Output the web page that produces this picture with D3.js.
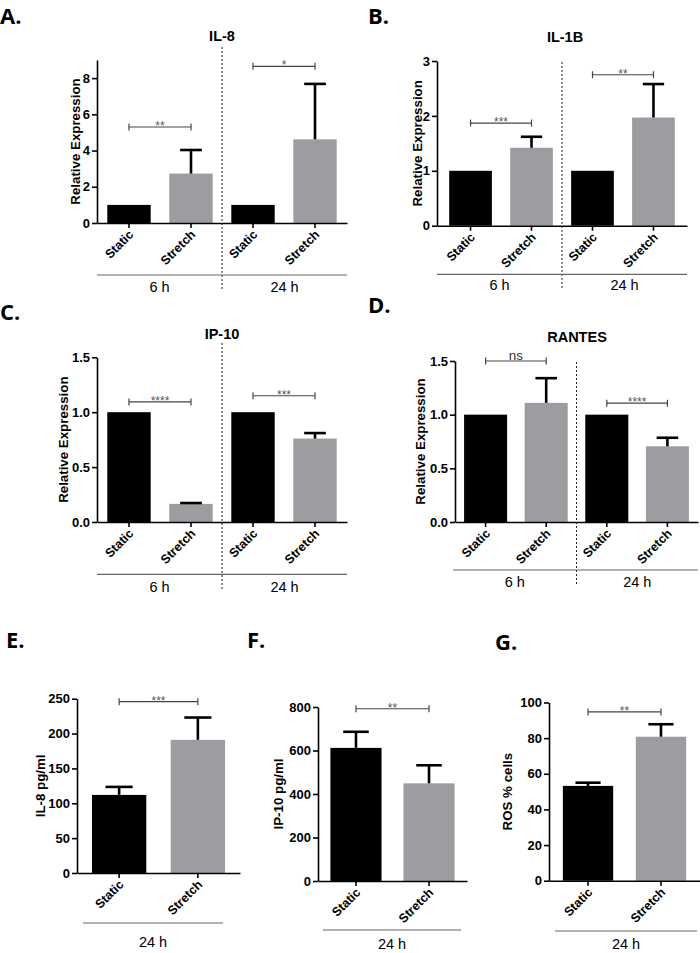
<!DOCTYPE html>
<html><head><meta charset="utf-8">
<script src="https://cdn.jsdelivr.net/npm/d3@7/dist/d3.min.js"></script>
<style>
body{margin:0;background:#fff}
svg{display:block}
text{font-family:"Liberation Sans",Arial,sans-serif}
</style>
</head><body>
<svg id="chart" width="700" height="953"></svg>
<script>
// ---------- data ----------
const barLabels4 = ["Static","Stretch","Static","Stretch"];
const barLabels2 = ["Static","Stretch"];
const timeLabels4 = ["6 h","24 h"];
const timeLabels2 = ["24 h"];

const il8RelMean = [1, 2.73, 1, 4.62];
const il8RelErr  = [0, 1.30, 0, 3.06];
const il8RelTicks = [0, 2, 4, 6, 8];
const il8RelSig = [{a:0,b:1,y:5.3,label:"**"},{a:2,b:3,y:8.65,label:"*"}];

const il1bMean = [1, 1.42, 1, 1.97];
const il1bErr  = [0, 0.20, 0, 0.61];
const il1bTicks = [0, 1, 2, 3];
const il1bSig = [{a:0,b:1,y:1.87,label:"***"},{a:2,b:3,y:2.75,label:"**"}];

const ip10RelMean = [1, 0.165, 1, 0.76];
const ip10RelErr  = [0, 0.008, 0, 0.05];
const ip10RelTicks = [0, 0.5, 1.0, 1.5];
const ip10RelSig = [{a:0,b:1,y:1.094,label:"****"},{a:2,b:3,y:1.15,label:"***"}];

const rantesMean = [1, 1.11, 1, 0.705];
const rantesErr  = [0, 0.23, 0, 0.08];
const rantesTicks = [0, 0.5, 1.0, 1.5];
const rantesSig = [{a:0,b:1,y:1.5,label:"ns"},{a:2,b:3,y:1.107,label:"****"}];

const il8PgMean = [112, 191];
const il8PgErr  = [11.5, 32];
const il8PgTicks = [0, 50, 100, 150, 200, 250];
const il8PgSig = [{a:0,b:1,y:245.7,label:"***"}];

const ip10PgMean = [612, 449];
const ip10PgErr  = [74, 83];
const ip10PgTicks = [0, 200, 400, 600, 800];
const ip10PgSig = [{a:0,b:1,y:792,label:"**"}];

const rosMean = [53.2, 80.8];
const rosErr  = [1.8, 7.0];
const rosTicks = [0, 20, 40, 60, 80, 100];
const rosSig = [{a:0,b:1,y:94.7,label:"**"}];

// ---------- drawing ----------
const svg = d3.select("#chart");
const BLACK = "#000", GRAY = "#9d9da1";

function panel(p) {
  const g = svg.append("g");
  const n = p.labels.length;
  const x = d3.scaleBand().domain(d3.range(n)).range([p.x0, p.x1])
    .paddingInner(p.pi).paddingOuter(p.po);
  const y = d3.scaleLinear().domain([0, p.max]).range([p.y0, p.y1]);
  const bw = x.bandwidth();
  const cx = i => x(i) + bw / 2;

  // letter
  g.append("text").attr("x", p.lx).attr("y", p.ly).text(p.letter)
    .style("font-family", "'Open Sans',sans-serif").style("font-weight", 700)
    .style("font-size", "22px");
  // title
  if (p.title) g.append("text").attr("x", p.tx).attr("y", p.ty).attr("text-anchor", "middle")
    .style("font-weight", 700).style("font-size", "14.5px").text(p.title);

  // bars
  g.selectAll("rect.bar").data(p.mean).join("rect").attr("class", "bar")
    .attr("x", (d, i) => x(i)).attr("width", bw)
    .attr("y", d => y(d)).attr("height", d => p.y0 - y(d))
    .attr("fill", (d, i) => i % 2 === 0 ? BLACK : GRAY);

  // error bars (upper only)
  p.mean.forEach((m, i) => {
    const e = p.err[i];
    if (!(e > 0)) return;
    g.append("line").attr("x1", cx(i)).attr("x2", cx(i)).attr("y1", y(m)).attr("y2", y(m + e))
      .attr("stroke", "#000").attr("stroke-width", 2.6);
    g.append("line").attr("x1", cx(i) - bw / 4).attr("x2", cx(i) + bw / 4)
      .attr("y1", y(m + e)).attr("y2", y(m + e))
      .attr("stroke", "#000").attr("stroke-width", 2.6);
  });

  // axes
  const ya = g.append("g").attr("transform", `translate(${p.x0},0)`)
    .call(d3.axisLeft(y).tickValues(p.ticks).tickSize(5).tickSizeOuter(0).tickPadding(2)
      .tickFormat(p.fmt || d3.format("d")));
  const xa = g.append("g").attr("transform", `translate(0,${p.y0})`)
    .call(d3.axisBottom(x).tickSize(5).tickSizeOuter(0).tickFormat(i => p.labels[i]));
  [ya, xa].forEach(a => {
    a.select(".domain").attr("stroke", "#000").attr("stroke-width", 1.6);
    a.selectAll(".tick line").attr("stroke", "#000").attr("stroke-width", 1.6);
    a.selectAll("text").attr("fill", "#000").style("font-weight", 700)
      .style("font-family", "'Liberation Sans',Arial,sans-serif");
  });
  ya.selectAll("text").style("font-size", "13px");
  xa.selectAll("text").style("font-size", "12.5px")
    .attr("text-anchor", "end").attr("transform", "rotate(-45)")
    .attr("x", -5).attr("y", 8).attr("dy", "0.35em");

  // y label
  g.append("text").attr("transform", `translate(${p.ylx},${(p.y0 + p.y1) / 2}) rotate(-90)`)
    .attr("text-anchor", "middle").attr("dy", "0.35em")
    .style("font-weight", 700).style("font-size", "13.3px").text(p.ylab);

  // significance brackets
  p.sig.forEach(s => {
    const xa1 = cx(s.a), xb1 = cx(s.b), yy = y(s.y);
    const c = "#444";
    g.append("line").attr("x1", xa1).attr("x2", xb1).attr("y1", yy).attr("y2", yy)
      .attr("stroke", c).attr("stroke-width", 1.2);
    [xa1, xb1].forEach(xx => g.append("line").attr("x1", xx).attr("x2", xx)
      .attr("y1", yy - 3.5).attr("y2", yy + 3.5).attr("stroke", c).attr("stroke-width", 1.2));
    const ns = s.label === "ns";
    g.append("text").attr("x", (xa1 + xb1) / 2).attr("y", ns ? yy - 1.5 : yy + 3)
      .attr("text-anchor", "middle").attr("fill", ns ? "#333" : "#555")
      .style("font-size", ns ? "13.5px" : "12px").text(s.label);
  });

  // divider between time groups
  let div = null;
  if (n === 4) {
    div = (x(1) + bw + x(2)) / 2;
    g.append("line").attr("x1", div).attr("x2", div).attr("y1", p.divTop).attr("y2", p.divBot)
      .attr("stroke", "#222").attr("stroke-width", 1).attr("stroke-dasharray", "2,2");
  }
  // group line + labels
  g.append("line").attr("x1", p.gx0).attr("x2", p.gx1).attr("y1", p.gy).attr("y2", p.gy)
    .attr("stroke", "#666").attr("stroke-width", 1.2);
  const spans = n === 4 ? [[p.gx0, div], [div, p.gx1]] : [[p.gx0, p.gx1]];
  p.groups.forEach((t, k) => {
    g.append("text").attr("x", (spans[k][0] + spans[k][1]) / 2).attr("y", p.gly)
      .attr("text-anchor", "middle").style("font-size", "14.5px").text(t);
  });
}

const f1 = d3.format(".1f");

panel({letter:"A.", lx:0, ly:24, title:"IL-8", tx:222, ty:41,
  labels:barLabels4, groups:timeLabels4, mean:il8RelMean, err:il8RelErr, ticks:il8RelTicks, sig:il8RelSig,
  x0:97, x1:347, y0:223, y1:60, max:9, pi:0.3, po:0.166, ylab:"Relative Expression", ylx:75,
  divTop:47, divBot:290, gy:275, gx0:97, gx1:347, gly:292});

panel({letter:"B.", lx:368, ly:24, title:"IL-1B", tx:565, ty:42,
  labels:barLabels4, groups:timeLabels4, mean:il1bMean, err:il1bErr, ticks:il1bTicks, sig:il1bSig,
  x0:437, x1:687, y0:225.7, y1:61, max:3, pi:0.3, po:0.2, ylab:"Relative Expression", ylx:417,
  divTop:62, divBot:290, gy:274.3, gx0:437, gx1:687, gly:290});

panel({letter:"C.", lx:0, ly:320, title:"IP-10", tx:222, ty:339,
  labels:barLabels4, groups:timeLabels4, mean:ip10RelMean, err:ip10RelErr, ticks:ip10RelTicks, sig:ip10RelSig, fmt:f1,
  x0:97, x1:347, y0:522, y1:357.3, max:1.5, pi:0.3, po:0.166, ylab:"Relative Expression", ylx:63,
  divTop:343, divBot:590, gy:574.3, gx0:97, gx1:347, gly:592});

panel({letter:"D.", lx:368, ly:313, title:"RANTES", tx:577, ty:342,
  labels:barLabels4, groups:timeLabels4, mean:rantesMean, err:rantesErr, ticks:rantesTicks, sig:rantesSig, fmt:f1,
  x0:455, x1:698, y0:522, y1:361, max:1.5, pi:0.29, po:0.15, ylab:"Relative Expression", ylx:420,
  divTop:362, divBot:585, gy:570, gx0:453, gx1:698, gly:587});

panel({letter:"E.", lx:6, ly:648,
  labels:barLabels2, groups:timeLabels2, mean:il8PgMean, err:il8PgErr, ticks:il8PgTicks, sig:il8PgSig,
  x0:77, x1:240, y0:873, y1:698.7, max:250, pi:0.31, po:0.19, ylab:"IL-8 pg/ml", ylx:40,
  gy:923, gx0:83, gx1:223, gly:947});

panel({letter:"F.", lx:247, ly:648,
  labels:barLabels2, groups:timeLabels2, mean:ip10PgMean, err:ip10PgErr, ticks:ip10PgTicks, sig:ip10PgSig,
  x0:318, x1:467, y0:881, y1:707, max:800, pi:0.3, po:0.17, ylab:"IP-10 pg/ml", ylx:278,
  gy:930, gx0:323, gx1:461, gly:949});

panel({letter:"G.", lx:495, ly:650,
  labels:barLabels2, groups:timeLabels2, mean:rosMean, err:rosErr, ticks:rosTicks, sig:rosSig,
  x0:549, x1:700, y0:880.7, y1:702.5, max:100, pi:0.31, po:0.19, ylab:"ROS % cells", ylx:507,
  gy:931, gx0:555, gx1:697, gly:949});
</script>
</body></html>
